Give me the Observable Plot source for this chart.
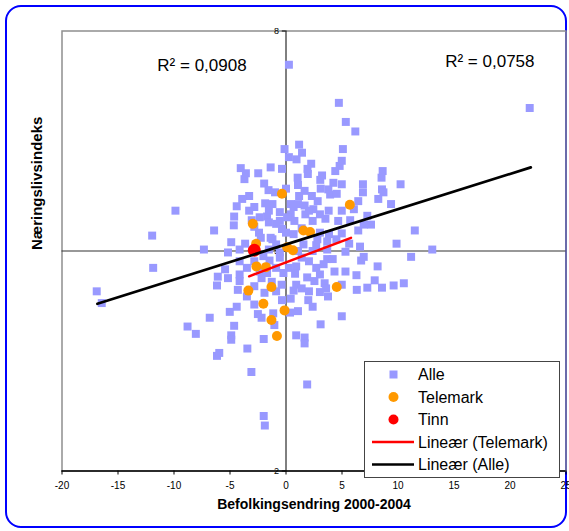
<!DOCTYPE html>
<html><head><meta charset="utf-8">
<script src="https://cdn.jsdelivr.net/npm/d3@7"></script>
<script src="https://cdn.jsdelivr.net/npm/@observablehq/plot@0.6"></script>
<style>
body{margin:0;background:#fff;font-family:"Liberation Sans",Arial,sans-serif;}
#wrap{position:relative;width:569px;height:531px;overflow:hidden;}
#border{position:absolute;left:5px;top:5px;width:558px;height:519px;border:2.5px solid #0000ff;border-radius:16px;}
#chart{position:absolute;left:0;top:0;}
#legend{position:absolute;left:364px;top:361px;width:196px;height:117px;border:1px solid #444;background:#fff;box-sizing:border-box;}
</style></head>
<body>
<div id="wrap"><div id="border"></div><div id="chart"></div><div id="legend"></div></div>
<script>
// Alle (all municipalities)
const alleX = [0.26,4.72,21.76,5.34,6.19,-0.13,1.17,5.08,1.43,0.26,0.94,4.98,2.25,4.79,-4.04,-1.37,-0.36,1.92,4.40,8.63,
-3.58,-2.48,1.95,3.22,8.53,-3.71,1.04,-1.95,3.06,4.23,4.98,6.87,10.23,1.07,3.10,-1.56,-0.98,0.0,1.66,3.78,
6.87,8.57,8.70,3.94,4.53,-3.29,-3.91,1.17,2.31,8.24,2.83,6.45,9.38,-1.86,-1.21,0.42,0.68,-4.40,1.66,2.44,
-3.29,-1.53,-0.55,3.81,4.98,6.06,-9.87,-4.63,-1.69,0.42,1.73,3.03,7.26,-3.06,-1.53,-0.55,0.75,2.38,3.52,4.66,
5.73,6.94,7.59,-4.66,-2.83,-0.36,1.40,-6.42,-2.41,0.0,0.68,3.03,3.84,4.98,6.45,11.50,-11.95,-2.25,-1.21,2.80,
5.64,-4.89,-3.65,6.61,9.87,-7.33,-5.18,-4.14,-1.53,-0.55,1.07,3.68,13.06,6.94,11.17,-4.14,-2.83,-1.47,-0.55,2.05,
3.68,4.17,6.71,-11.86,-5.44,-3.49,-0.88,0.26,0.91,2.70,8.18,-6.09,-5.18,-2.18,0.81,1.89,3.03,5.31,6.29,-4.14,
-1.27,3.45,7.92,10.52,9.61,7.26,8.57,-6.16,-4.30,-0.39,0.91,3.58,4.98,-16.9,2.05,3.03,6.32,-3.49,0.68,3.75,
-16.45,-0.36,0.42,1.99,-2.83,-4.40,2.38,-5.02,-2.51,-1.14,0.36,1.07,-6.81,-2.18,4.98,-1.04,-8.79,-4.63,3.09,-8.05,
-4.89,-4.89,-1.99,0.91,1.66,1.66,-3.45,-6.16,-5.96,-3.09,1.89,-1.99,-1.89,
-0.88,-2.02,-2.35,-1.69,-4.14,-0.23,1.40,2.38,2.70,1.56,3.68,4.50,5.31,4.33,3.36,-0.88,0.10,1.07,2.05,-2.83,
-2.35,-1.37,-0.88,-1.92,-2.83,2.54,1.40];
const alleY = [7.54,7.02,6.95,6.76,6.63,6.39,6.45,6.39,6.34,6.28,6.25,6.23,6.19,6.16,6.13,6.14,6.12,6.12,6.09,6.09,
6.06,6.06,6.05,6.03,6.00,5.98,6.00,5.92,5.97,5.93,5.91,5.91,5.91,5.90,5.85,5.83,5.80,5.85,5.82,5.84,
5.80,5.84,5.80,5.77,5.78,5.75,5.71,5.75,5.75,5.71,5.68,5.68,5.64,5.65,5.64,5.64,5.60,5.61,5.62,5.57,
5.55,5.55,5.53,5.55,5.55,5.57,5.55,5.47,5.47,5.50,5.50,5.50,5.48,5.42,5.39,5.41,5.41,5.41,5.44,5.41,
5.42,5.36,5.36,5.35,5.33,5.30,5.31,5.28,5.25,5.25,5.23,5.25,5.23,5.24,5.28,5.28,5.21,5.18,5.16,5.16,
5.10,5.12,5.10,5.06,5.10,5.02,4.98,5.02,5.02,4.98,5.00,5.02,5.02,4.92,4.92,4.86,4.86,4.87,4.91,4.86,
4.89,4.89,4.87,4.77,4.75,4.77,4.77,4.77,4.79,4.77,4.79,4.65,4.63,4.63,4.69,4.64,4.68,4.72,4.67,4.59,
4.58,4.56,4.60,4.56,4.53,4.50,4.50,4.53,4.47,4.54,4.54,4.49,4.54,4.45,4.45,4.44,4.47,4.38,4.46,4.38,
4.29,4.33,4.35,4.33,4.27,4.24,4.24,4.17,4.14,4.15,4.16,4.18,4.09,4.09,4.11,3.99,3.97,3.98,4.00,3.87,
3.85,3.79,3.80,3.85,3.82,3.74,3.67,3.57,3.61,3.35,3.18,2.75,2.62,
5.09,4.93,4.72,4.70,4.68,4.70,4.91,5.00,5.08,5.09,5.13,5.16,4.99,4.72,4.82,5.37,5.46,5.64,5.55,5.60,
5.46,5.18,4.45,4.43,4.52,4.59,4.49];
// Telemark municipalities
const telemarkX = [-0.36,5.70,-2.96,1.56,2.15,-2.67,0.10,0.62,-2.64,-1.79,-1.30,-3.36,4.53,-2.02,-0.13,-1.30,-0.81];
const telemarkY = [5.78,5.63,5.37,5.28,5.26,5.10,5.05,5.01,4.79,4.78,4.51,4.46,4.51,4.28,4.19,4.06,3.84];
// Tinn
const tinnX = [-2.83];
const tinnY = [5.01];
// Linear trend lines (end points)
const trendAlleX = [-16.84, 21.86];
const trendAlleY = [4.28, 6.14];
const trendTelemarkX = [-3.29, 5.80];
const trendTelemarkY = [4.655, 5.18];
// R² annotations
const r2Text = ["R² = 0,0908", "R² = 0,0758"];
const r2X = [-7.5, 18.2];
const r2Y = [7.53, 7.58];
// axes
const xTicks = [-20,-15,-10,-5,0,5,10,15,20,25];
const yTicks = [2,5,8];
const xTitle = "Befolkingsendring 2000-2004";
const yTitle = "Næringslivsindeks";
const legendItems = ["Alle","Telemark","Tinn","Lineær (Telemark)","Lineær (Alle)"];

const alle = alleX.map((x,i)=>({x, y: alleY[i]}));
const telemark = telemarkX.map((x,i)=>({x, y: telemarkY[i]}));
const tinn = tinnX.map((x,i)=>({x, y: tinnY[i]}));
const trendAlle = trendAlleX.map((x,i)=>({x, y: trendAlleY[i]}));
const trendTel = trendTelemarkX.map((x,i)=>({x, y: trendTelemarkY[i]}));
const r2 = r2Text.map((t,i)=>({t, x: r2X[i], y: r2Y[i]}));

const font = '"Liberation Sans", Arial, sans-serif';
const chart = Plot.plot({
  width: 569, height: 531,
  marginLeft: 61.5, marginRight: 3.5, marginTop: 30.5, marginBottom: 60.5,
  x: {domain: [-20, 25], axis: null},
  y: {domain: [2, 8], axis: null},
  style: {fontFamily: font, background: "transparent", overflow: "visible", color: "#000"},
  marks: [
    Plot.frame({stroke: "#8f8f8f", strokeWidth: 1.5}),
    Plot.ruleY([5], {stroke: "#333", strokeWidth: 1.2}),
    Plot.ruleX([0], {stroke: "#000", strokeWidth: 1}),
    Plot.ruleY([2], {stroke: "#000", strokeWidth: 1.5}),
    Plot.ruleY(yTicks, {x1: -0.33, x2: 0, stroke: "#000"}),
    Plot.text(yTicks, {x: 0, y: d => d, text: d => String(d), dx: -7, textAnchor: "end", fontSize: 9}),
    Plot.axisX(xTicks, {tickSize: 4, tickPadding: 7, fontSize: 10, label: null, tickFormat: d => String(d)}),
    Plot.dot(alle, {x: "x", y: "y", symbol: "square", r: 4.5, fill: "#9999ff"}),
    Plot.dot(telemark, {x: "x", y: "y", r: 5, fill: "#ff9900"}),
    Plot.dot(tinn, {x: "x", y: "y", r: 6.5, fill: "#ff0000"}),
    Plot.line(trendTel, {x: "x", y: "y", stroke: "#ff0000", strokeWidth: 2.5}),
    Plot.line(trendAlle, {x: "x", y: "y", stroke: "#000", strokeWidth: 2.7}),
    Plot.text(r2, {x: "x", y: "y", text: "t", fontSize: 17, textAnchor: "middle"}),
    Plot.text([xTitle], {frameAnchor: "bottom", dy: 37.5, fontSize: 14, fontWeight: "bold", text: d => d}),
    Plot.text([yTitle], {frameAnchor: "left", dx: -25, dy: -1, rotate: -90, fontSize: 15, fontWeight: "bold", text: d => d})
  ]
});
document.getElementById("chart").appendChild(chart);

// Legend
const lg = d3.select("#legend").append("svg").attr("width", 194).attr("height", 115)
  .style("position","absolute").style("left","0").style("top","0");
const rowY = [12.5, 35, 57.5, 80, 102.5];
legendItems.forEach((name, i) => {
  const cy = rowY[i], mx = 28.5;
  if (i === 0) lg.append("rect").attr("x", mx-4).attr("y", cy-4).attr("width", 8).attr("height", 8).attr("fill", "#9999ff");
  if (i === 1) lg.append("circle").attr("cx", mx).attr("cy", cy).attr("r", 5).attr("fill", "#ff9900");
  if (i === 2) lg.append("circle").attr("cx", mx).attr("cy", cy).attr("r", 5).attr("fill", "#ff0000");
  if (i === 3) lg.append("line").attr("x1", 7).attr("x2", 49).attr("y1", cy).attr("y2", cy).attr("stroke", "#ff0000").attr("stroke-width", 2.5);
  if (i === 4) lg.append("line").attr("x1", 7).attr("x2", 49).attr("y1", cy).attr("y2", cy).attr("stroke", "#000").attr("stroke-width", 2.7);
  lg.append("text").attr("x", 53).attr("y", cy).attr("dy", "0.36em").attr("font-size", 16)
    .attr("font-family", font).attr("fill", "#000").text(name);
});
</script>
</body></html>
